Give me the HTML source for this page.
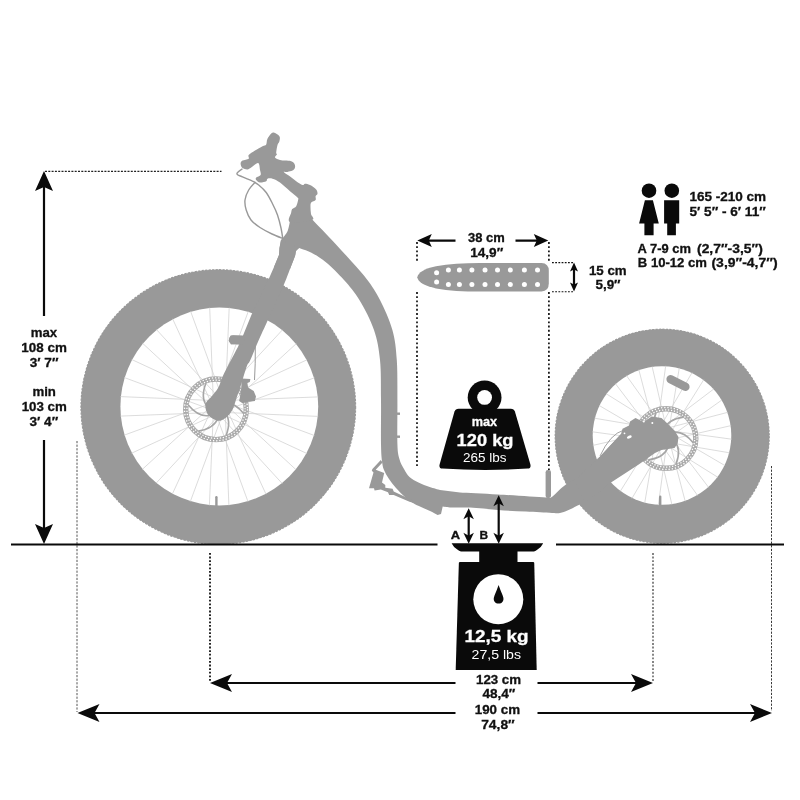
<!DOCTYPE html>
<html lang="en">
<head>
<meta charset="utf-8">
<title>Scooter dimensions</title>
<style>
html,body{margin:0;padding:0;background:#fff;}
body{width:800px;height:800px;overflow:hidden;font-family:"Liberation Sans",sans-serif;}
svg{display:block;will-change:transform;opacity:0.999;}
text{font-family:"Liberation Sans",sans-serif;}
.b{font-weight:bold;fill:#111;stroke:#111;stroke-width:0.3;}
.w{fill:#fff;}
.wb{fill:#fff;font-weight:bold;stroke:#fff;stroke-width:0.3;}
.dot{stroke:#111;stroke-width:1;stroke-dasharray:1.6 1.4;fill:none;}
.ln{stroke:#0a0a0a;stroke-width:2.2;fill:none;}
.blk{fill:#0a0a0a;}
</style>
</head>
<body>
<svg width="800" height="800" viewBox="0 0 800 800">
<rect width="800" height="800" fill="#ffffff"/>
<!-- dotted guide lines -->
<g class="dot">
<path d="M45 171.4H221.5" stroke="#222" stroke-width="1.1" stroke-dasharray="2 1.3"/>
<path d="M77 441V712" stroke="#555" stroke-width="1" stroke-dasharray="2.2 1.4"/>
<path d="M210 553V681" stroke-width="1.8" stroke-dasharray="1.8 1.8"/>
<path d="M653 553V681" stroke="#444" stroke-width="1.3" stroke-dasharray="1.9 1.7"/>
<path d="M771.5 466V711" stroke="#222" stroke-width="0.9" stroke-dasharray="2.2 1.4"/>
<path d="M417 242V261M417 292V468" stroke-width="1.7" stroke-dasharray="1.9 2.3"/>
<path d="M548.9 242V261M548.9 292V470" stroke-width="1.7" stroke-dasharray="1.9 2.3"/>
<path d="M552 262.6H574M552 291.7H574" stroke-width="1.1" stroke-dasharray="1.8 1.4"/>
</g>
<!-- front wheel -->
<g>
<circle cx="218.3" cy="407" r="137.5" fill="#999999"/>
<circle cx="218.3" cy="407" r="137.3" fill="none" stroke="#999999" stroke-width="1.2" stroke-dasharray="2.2 1.3"/>
<circle cx="219.3" cy="406.5" r="98.9" fill="#fff"/>
<path d="M223.1 412.4L318.2 416.4M225.1 402.5L314.4 435.5M220.5 413.4L306.9 453.5M226.1 405.0L296.0 469.7M217.8 413.3L282.2 483.5M226.2 407.8L266.0 494.2M215.3 412.2L248.0 501.7M225.2 410.3L228.9 505.4M213.4 410.3L209.4 505.4M223.3 412.3L190.3 501.6M212.4 407.7L172.3 494.1M220.8 413.3L156.1 483.2M212.5 405.0L142.3 469.4M218.0 413.4L131.6 453.2M213.6 402.5L124.1 435.2M215.5 412.4L120.4 416.1M215.5 400.6L120.4 396.6M213.5 410.5L124.2 377.5M218.1 399.6L131.7 359.5M212.5 408.0L142.6 343.3M220.8 399.7L156.4 329.5M212.4 405.2L172.6 318.8M223.3 400.8L190.6 311.3M213.4 402.7L209.7 307.6M225.2 402.7L229.2 307.6M215.3 400.7L248.3 311.4M226.2 405.3L266.3 318.9M217.8 399.7L282.5 329.8M226.1 408.0L296.3 343.6M220.6 399.6L307.0 359.8M225.0 410.5L314.5 377.8M223.1 400.6L318.2 396.9" stroke="#d0d0d0" stroke-width="0.75" fill="none"/>
<circle cx="216" cy="409.3" r="30.3" fill="none" stroke="#ababab" stroke-width="5.4"/>
<circle cx="216" cy="409.3" r="31.5" fill="none" stroke="#fff" stroke-width="1.3" stroke-dasharray="1.3 1.9"/>
<circle cx="216" cy="409.3" r="29.1" fill="none" stroke="#fff" stroke-width="1.3" stroke-dasharray="1.3 1.7" stroke-dashoffset="1.5"/>
<path d="M224.6 412.0Q231.9 420.5 226.1 435.4M218.0 418.1Q214.2 428.6 198.5 431.1M209.4 415.4Q198.4 417.4 188.3 405.0M207.4 406.6Q200.1 398.1 205.9 383.2M214.0 400.5Q217.8 390.0 233.5 387.5M222.6 403.2Q233.6 401.2 243.7 413.6" stroke="#a6a6a6" stroke-width="1.6" fill="none"/>
</g>
<rect x="215.2" y="496" width="2.4" height="11" rx="1.2" fill="#999999"/>
<!-- rear wheel -->
<g>
<circle cx="662.2" cy="436.2" r="107.2" fill="#999999"/>
<circle cx="662.2" cy="436.2" r="107.0" fill="none" stroke="#999999" stroke-width="1.2" stroke-dasharray="2.2 1.3"/>
<circle cx="662" cy="435.5" r="69.3" fill="#fff"/>
<path d="M664.9 441.9L729.6 452.8M668.3 432.4L725.0 465.6M662.2 442.5L717.9 477.3M669.0 435.1L708.6 487.4M659.5 442.0L697.6 495.5M668.6 437.8L685.2 501.3M657.2 440.6L671.9 504.6M667.2 440.1L658.3 505.2M655.6 438.4L644.7 503.1M665.1 441.8L631.9 498.5M655.0 435.7L620.2 491.4M662.4 442.5L610.1 482.1M655.5 433.0L602.0 471.1M659.7 442.1L596.2 458.7M656.9 430.7L592.9 445.4M657.4 440.7L592.3 431.8M659.1 429.1L594.4 418.2M655.7 438.6L599.0 405.4M661.8 428.5L606.1 393.7M655.0 435.9L615.4 383.6M664.5 429.0L626.4 375.5M655.4 433.2L638.8 369.7M666.8 430.4L652.1 366.4M656.8 430.9L665.7 365.8M668.4 432.6L679.3 367.9M658.9 429.2L692.1 372.5M669.0 435.3L703.8 379.6M661.6 428.5L713.9 388.9M668.5 438.0L722.0 399.9M664.3 428.9L727.8 412.3M667.1 440.3L731.1 425.6M666.6 430.3L731.7 439.2" stroke="#d0d0d0" stroke-width="0.75" fill="none"/>
<circle cx="666" cy="438.5" r="29.8" fill="none" stroke="#ababab" stroke-width="5.4"/>
<circle cx="666" cy="438.5" r="31.0" fill="none" stroke="#fff" stroke-width="1.3" stroke-dasharray="1.3 1.9"/>
<circle cx="666" cy="438.5" r="28.6" fill="none" stroke="#fff" stroke-width="1.3" stroke-dasharray="1.3 1.7" stroke-dashoffset="1.5"/>
<path d="M674.6 441.2Q681.7 449.6 676.0 464.1M668.0 447.3Q664.3 457.6 648.8 459.9M659.4 444.6Q648.6 446.5 638.8 434.3M657.4 435.8Q650.3 427.4 656.0 412.9M664.0 429.7Q667.7 419.4 683.2 417.1M672.6 432.4Q683.4 430.5 693.2 442.7" stroke="#a6a6a6" stroke-width="1.6" fill="none"/>
</g>
<rect x="659" y="495.5" width="2.4" height="11" rx="1.2" fill="#999999"/>
<rect x="-12.5" y="-4.2" width="25" height="8.4" rx="4.2" fill="#999999" transform="translate(678,383) rotate(27)"/>
<!-- scooter silhouette -->
<g fill="#999999" stroke="none">
<path d="M309.4 206.0C309.2 207.0 307.9 210.0 308.2 212.0C308.5 214.0 308.6 215.0 311.0 218.0C313.4 221.0 318.1 225.5 322.4 230.0C326.6 234.5 331.6 239.7 336.5 245.0C341.4 250.3 346.9 256.2 352.0 262.0C357.1 267.8 362.7 273.7 367.4 280.0C372.1 286.3 375.8 291.7 380.0 300.0C384.2 308.3 389.6 320.0 392.4 330.0C395.2 340.0 396.0 348.3 396.8 360.0C397.6 371.7 397.3 386.0 397.4 400.0C397.5 414.0 397.1 434.2 397.4 444.0C397.7 453.8 398.3 454.8 399.4 459.0C400.5 463.2 402.3 466.0 404.0 469.0C405.7 472.0 407.1 474.7 409.5 477.0C411.9 479.3 415.1 480.9 418.5 482.6C421.9 484.3 426.1 485.8 429.7 487.0C433.3 488.2 438.3 489.5 440.0 490.0L460.0 492.4C466.3 492.7 483.7 493.5 498.0 494.4C512.3 495.3 537.2 497.1 546.0 497.6C554.8 498.1 548.0 499.5 551.0 497.6C554.0 495.7 559.8 489.1 564.0 486.0C568.2 482.9 574.0 480.2 576.0 479.0L597.3 459.6L621 434L611 482.4L585 503L585.0 503.0C584.2 503.2 582.8 503.3 580.0 504.5C577.2 505.7 571.3 508.9 568.0 510.3C564.7 511.7 562.7 512.5 560.0 513.0C557.3 513.5 557.7 513.2 552.0 513.0C546.3 512.8 535.0 512.1 526.0 511.6C517.0 511.1 507.3 510.7 498.0 510.0C488.7 509.3 478.0 508.0 470.0 507.6C462.0 507.2 454.6 507.6 450.0 507.4C445.4 507.2 443.9 506.6 442.7 506.5L441 514L437.6 515.0C436.3 514.3 432.8 512.3 430.0 511.0C427.2 509.7 423.8 508.3 421.0 507.0C418.2 505.7 415.7 504.7 413.0 503.0C410.3 501.3 407.8 499.5 405.0 497.0C402.2 494.5 398.7 491.0 396.0 488.0C393.3 485.0 391.0 482.0 389.0 479.0C387.0 476.0 385.2 473.0 384.0 470.0C382.8 467.0 382.5 465.3 382.0 461.0C381.5 456.7 381.2 454.2 381.0 444.0C380.8 433.8 381.2 414.0 381.0 400.0C380.8 386.0 381.2 371.7 380.0 360.0C378.8 348.3 377.4 340.0 374.0 330.0C370.6 320.0 364.4 308.3 359.4 300.0C354.4 291.7 349.6 286.3 344.0 280.0C338.4 273.7 331.1 266.6 325.6 262.0C320.1 257.4 315.4 254.8 311.0 252.5C306.6 250.2 301.0 248.8 299.0 248.0L296 251 L295 256 L290 269 L274 267 L279 255 L279.5 248L281.0 240.0C281.6 239.3 283.2 237.7 284.4 236.0C285.6 234.3 287.0 233.0 288.0 230.0C289.0 227.0 289.8 221.5 290.5 218.0C291.2 214.5 291.8 210.5 292.0 209.0Z"/>
<path d="M299.0 248.0C298.5 248.5 296.7 249.7 296.0 251.0C295.3 252.3 296.0 253.0 295.0 256.0C294.0 259.0 291.9 264.1 290.0 269.0C288.1 273.9 287.3 276.8 283.5 285.5C279.7 294.2 270.8 313.4 267.2 321.4C263.6 329.4 263.4 329.8 261.6 333.7C259.8 337.6 258.5 340.5 256.6 345.0C254.7 349.5 251.6 357.4 250.0 360.7C248.4 364.0 248.4 362.4 247.3 365.0C246.2 367.6 244.8 372.4 243.6 376.2C242.4 379.9 241.4 383.8 240.2 387.5C239.0 391.2 237.6 394.9 236.3 398.7C235.0 402.4 234.2 406.8 232.4 410.0C230.6 413.2 228.1 416.1 225.6 417.9C223.1 419.7 220.5 421.1 217.7 420.7C214.9 420.3 210.7 417.7 208.7 415.6C206.7 413.5 205.9 410.3 205.5 408.0C205.1 405.7 205.4 404.0 206.5 402.0C207.6 400.0 210.0 398.4 212.0 396.0C214.0 393.6 216.5 390.8 218.3 387.5C220.1 384.2 221.1 379.9 222.8 376.2C224.5 372.4 225.9 369.8 228.4 365.0C230.9 360.2 235.9 350.8 237.8 347.2C239.7 343.6 239.3 344.2 239.6 343.6L231 344.6 L228.6 340.5 L230.6 335.6 L243 335.6 L251.6 314.6 L268.5 279.5 L274 267 L279 255 L279.5 248 L281 240Z"/>
<rect x="229" y="335.4" width="16" height="9" rx="4.2" transform="rotate(4 236 340)"/>
<path d="M241.4 378.5 L250.4 379 L249.8 381.9 L247.4 383 L248.1 387.5 L253.7 390.9 L256 396.5 L254.9 401 L247 402.1 L242.5 403.2 L239.1 401 L240.8 393.1 L241.4 385.2 Z"/>
<path d="M255.3 345 Q255.5 365 254.5 380" fill="none" stroke="#999999" stroke-width="1"/>
<path d="M273.1 132.5C275.1 132.1 278.3 134.8 279.4 136.2C280.4 137.6 279.7 139.7 279.4 141.2C279.1 142.7 278.0 143.1 277.5 145.0C277.0 146.9 276.3 150.9 276.2 152.5C276.1 154.1 277.1 153.6 276.9 154.4C276.7 155.2 274.5 156.6 275.0 157.5C275.5 158.4 278.3 159.5 280.0 160.0C281.7 160.5 283.1 160.4 285.0 160.6C286.9 160.8 289.6 160.7 291.2 161.2C292.8 161.7 293.8 162.6 294.4 163.7C295.0 164.8 295.3 166.3 295.0 167.5C294.7 168.7 293.8 169.9 292.5 170.6C291.2 171.3 289.0 171.7 287.5 171.9C286.0 172.1 283.5 171.3 283.7 171.9C283.9 172.5 286.6 174.1 288.7 175.6C290.8 177.1 293.9 179.6 296.2 181.2C298.5 182.8 301.0 184.6 302.5 185.0C304.0 185.4 303.8 183.7 305.0 183.7C306.2 183.7 308.1 184.1 310.0 185.0C311.9 185.9 314.9 188.0 316.2 189.4C317.4 190.8 317.6 192.6 317.5 193.7C317.4 194.8 315.9 195.1 315.6 196.2C315.3 197.2 316.3 198.9 315.6 200.0C314.9 201.1 312.1 201.2 311.2 202.5C310.3 203.8 310.5 205.6 310.5 207.5C310.5 209.4 310.8 211.9 311.0 214.0C311.2 216.1 315.5 218.7 312.0 220.0C308.5 221.3 293.4 223.3 290.0 222.0C286.6 220.7 291.1 214.2 291.5 212.0C291.9 209.8 291.7 210.0 292.5 209.0C293.3 208.0 295.3 207.7 296.2 206.2C297.1 204.7 297.9 201.4 298.1 200.0C298.3 198.6 298.9 199.0 297.5 197.5C296.1 196.0 292.9 193.7 290.0 191.2C287.1 188.7 282.9 184.6 280.0 182.5C277.1 180.4 274.6 179.3 272.5 178.7C270.4 178.1 268.6 178.3 267.5 178.7C266.4 179.1 267.4 180.6 266.2 181.2C264.9 181.8 261.7 182.7 260.0 182.5C258.3 182.3 256.8 180.8 256.2 180.0C255.6 179.2 255.5 178.3 256.2 177.5C256.9 176.7 260.0 176.2 260.6 175.0C261.2 173.8 260.4 172.0 260.0 170.0C259.6 168.0 259.6 163.5 258.1 163.1C256.6 162.7 253.0 166.4 251.2 167.5C249.4 168.6 248.9 169.3 247.5 169.4C246.1 169.5 243.7 169.1 242.5 168.1C241.3 167.1 240.6 164.9 240.6 163.7C240.6 162.4 241.2 161.4 242.5 160.6C243.8 159.8 247.7 159.6 248.7 158.7C249.7 157.8 247.6 156.3 248.7 155.0C249.8 153.7 252.7 152.1 255.0 150.6C257.3 149.1 260.6 147.2 262.5 146.2C264.4 145.2 265.4 145.7 266.2 144.4C267.0 143.2 266.4 140.7 267.5 138.7C268.6 136.7 271.1 132.9 273.1 132.5Z"/>
<path d="M242.5 168.7C241.6 169.5 236.9 172.3 236.9 173.7C236.9 175.1 239.9 175.7 242.5 176.9C245.1 178.2 249.8 179.8 252.5 181.2C255.2 182.5 256.4 183.1 258.7 185.0C261.0 186.9 263.9 189.4 266.2 192.5C268.5 195.6 270.6 199.9 272.5 203.7C274.4 207.4 276.1 210.9 277.5 215.0C278.9 219.1 280.1 223.8 281.0 228.0C281.9 232.2 282.7 238.0 283.0 240.0" fill="none" stroke="#999999" stroke-width="1.4"/>
<path d="M255.6 181.9C254.4 183.2 250.5 187.0 248.7 190.0C246.9 193.0 245.4 196.7 245.0 200.0C244.6 203.3 245.2 206.7 246.2 210.0C247.2 213.3 248.7 217.1 251.0 220.0C253.3 222.9 256.5 225.2 260.0 227.5C263.5 229.8 268.2 232.2 272.0 234.0C275.8 235.8 281.2 237.8 283.0 238.5" fill="none" stroke="#999999" stroke-width="1.4"/>
<path d="M372.4 469.0L380.8 460.0L382.5 462.4L375.7 469.7L384.2 473.0L382.0 482.6L385.3 484.9L385.3 487.7L392.6 488.8L393.7 491.6L412.9 500.6L414.0 502.9L409.5 501.7L393.7 495.0L389.2 495.0L388.0 492.2L380.8 489.4L374.6 490.5L374.0 488.2L369.0 488.2L373.5 472.5L371.8 470.8Z"/>
<rect x="396" y="412.5" width="4" height="2.4"/><rect x="396" y="435.5" width="4" height="2.4"/>
<rect x="545.6" y="470" width="5.4" height="28" rx="2.2"/>
<path d="M585 503 L575 481 L597.3 459.6 L621 434 L622.5 428.7 L629 425.5 L630 421.4 L635.5 418 L643.6 422 L651.7 416.5 L661.5 418 L668 424 L674.5 430.4 L678.5 437 L677.7 443.4 L674.5 448 L661.5 450 L655 453 L638.7 464.5 L611 482.4 Z"/>
<path d="M624 430 Q610 434 600 456" fill="none" stroke="#999999" stroke-width="0.9"/>
<ellipse cx="629.3" cy="437" rx="2.6" ry="1.5" fill="#fff" transform="rotate(-25 629.3 437)"/><circle cx="643.8" cy="421.6" r="1" fill="#fff"/><circle cx="652.3" cy="423" r="1" fill="#fff"/><circle cx="624.5" cy="433.3" r="0.9" fill="#fff"/>
</g>
<!-- ground -->
<path class="ln" d="M11 544.5H437.5M556 544.5H784"/>
<!-- arrows -->
<g>
<path class="ln" d="M44 186V316M44 440V530" stroke-width="2.4"/>
<path class="blk" d="M44.0 171.0L53.0 191.0L44.0 187.0L35.0 191.0ZM44.0 544.0L35.0 524.0L44.0 528.0L53.0 524.0Z"/>
<path class="ln" d="M226 683H455.5M537.5 683H638"/>
<path class="blk" d="M210.0 683.0L232.0 674.0L227.0 683.0L232.0 692.0ZM653.0 683.0L631.0 692.0L636.0 683.0L631.0 674.0Z"/>
<path class="ln" d="M94 713H455.5M537.5 713H756"/>
<path class="blk" d="M77.5 713.0L99.5 704.0L94.5 713.0L99.5 722.0ZM772.0 713.0L750.0 722.0L755.0 713.0L750.0 704.0Z"/>
<path class="ln" d="M428 240.6H455.5M515.5 240.6H538" stroke-width="2"/>
<path class="blk" d="M417.3 240.6L431.8 234.1L428.8 240.6L431.8 247.1ZM548.3 240.6L533.8 247.1L536.8 240.6L533.8 234.1Z"/>
<path class="ln" d="M574 268V286" stroke-width="1.6"/>
<path class="blk" d="M574.0 262.5L578.0 271.5L574.0 269.5L570.0 271.5ZM574.0 291.5L570.0 282.5L574.0 284.5L578.0 282.5Z"/>
<path class="ln" d="M468.7 516V536M498.7 503V536" stroke-width="2"/>
<path class="blk" d="M468.7 508.2L473.9 519.2L468.7 516.2L463.4 519.2ZM468.7 543.8L463.4 532.8L468.7 535.8L473.9 532.8ZM498.7 495.2L503.9 506.2L498.7 503.2L493.4 506.2ZM498.7 543.8L493.4 532.8L498.7 535.8L503.9 532.8Z"/>
</g>
<!-- deck top view -->
<path d="M417.3 277.3 Q418.5 270 436 266.2 Q455 263 480 263 L541.5 263.1 Q548.8 263.4 548.8 271 L548.8 283.6 Q548.8 291.3 541.5 291.5 L480 291.6 Q455 291.6 436 288.4 Q418.5 284.6 417.3 277.3Z" fill="#999999"/>
<g fill="#fff"><circle cx="436.6" cy="272.8" r="2.5"/><circle cx="436.6" cy="281.9" r="2.5"/><circle cx="448.4" cy="270.1" r="2.5"/><circle cx="448.4" cy="284.4" r="2.5"/><circle cx="459.4" cy="270.1" r="2.5"/><circle cx="459.4" cy="284.4" r="2.5"/><circle cx="471.9" cy="270.1" r="2.5"/><circle cx="471.9" cy="284.4" r="2.5"/><circle cx="485" cy="270.1" r="2.5"/><circle cx="485" cy="284.4" r="2.5"/><circle cx="497.5" cy="270.1" r="2.5"/><circle cx="497.5" cy="284.4" r="2.5"/><circle cx="510.3" cy="270.1" r="2.5"/><circle cx="510.3" cy="284.4" r="2.5"/><circle cx="524.4" cy="270.1" r="2.5"/><circle cx="524.4" cy="284.4" r="2.5"/><circle cx="537.5" cy="270.1" r="2.5"/><circle cx="537.5" cy="284.4" r="2.5"/></g>
<!-- max load weight -->
<g class="blk">
<circle cx="484.6" cy="397.4" r="16.9"/>
<path d="M458.6 408.7 H510.8 Q514 408.7 514.9 411.6 L530.4 464.6 Q531.3 468.2 527.6 468.6 Q485 471.2 442.4 468.6 Q438.7 468.2 439.6 464.6 L454.5 411.6 Q455.4 408.7 458.6 408.7Z"/>
</g>
<circle cx="484.6" cy="397.4" r="7.4" fill="#fff"/>
<text x="471.65" y="425.75" font-size="12.5" class="wb" textLength="25.37" lengthAdjust="spacingAndGlyphs">max</text>
<text x="456.62" y="445.9" font-size="17" class="wb" textLength="56.88" lengthAdjust="spacingAndGlyphs">120 kg</text>
<text x="462.9" y="461.6" font-size="13" class="w" textLength="43.49" lengthAdjust="spacingAndGlyphs">265 lbs</text>
<!-- scale -->
<g class="blk">
<path d="M451.6 543.2 H543.2 Q541 547.6 537.5 549.6 Q535.8 551.2 534 551.4 H461 Q459 551.2 457.3 549.6 Q453.8 547.6 451.6 543.2Z"/>
<rect x="479.2" y="550" width="38.3" height="13"/>
<path d="M460 561.9 H533.2 Q534.2 561.9 534.25 563 L536.7 670 H455.7 L458.85 563 Q458.9 561.9 460 561.9Z"/>
</g>
<circle cx="498.3" cy="599.2" r="25" fill="#fff"/>
<path class="blk" d="M498.6 585 Q500.3 590 502.6 595.3 Q504.8 600.6 501.4 602.9 Q498.6 604.3 495.8 602.9 Q492.4 600.6 494.6 595.3 Q496.9 590 498.6 585Z"/>
<text x="464.41" y="642.4" font-size="17" class="wb" textLength="64.05" lengthAdjust="spacingAndGlyphs">12,5 kg</text>
<text x="471.56" y="659.4" font-size="13" class="w" textLength="49.46" lengthAdjust="spacingAndGlyphs">27,5 lbs</text>
<!-- people -->
<g class="blk">
<circle cx="649" cy="190.7" r="7.3"/><path d="M644.9 200.2H652.9L658.8 223.6H653.6V235.2H644.4V223.6H639.1Z"/>
<circle cx="671.8" cy="190.7" r="7.3"/><path d="M664.1 200.2H679.2V223.6H675.9V235.2H667.2V223.6H664.1Z"/>
</g>
<!-- labels -->
<text x="30.77" y="337.3" font-size="12.3" class="b" textLength="26.43" lengthAdjust="spacingAndGlyphs">max</text>
<text x="21.36" y="351.9" font-size="12.3" class="b" textLength="45.45" lengthAdjust="spacingAndGlyphs">108 cm</text>
<text x="29.78" y="366.7" font-size="12.3" class="b" textLength="28.67" lengthAdjust="spacingAndGlyphs">3′ 7″</text>
<text x="32.4" y="395.9" font-size="12.3" class="b" textLength="23.49" lengthAdjust="spacingAndGlyphs">min</text>
<text x="21.71" y="410.6" font-size="12.3" class="b" textLength="45.09" lengthAdjust="spacingAndGlyphs">103 cm</text>
<text x="29.52" y="425.5" font-size="12.3" class="b" textLength="28.62" lengthAdjust="spacingAndGlyphs">3′ 4″</text>
<text x="467.96" y="242.3" font-size="12.3" class="b" textLength="36.7" lengthAdjust="spacingAndGlyphs">38 cm</text>
<text x="470.17" y="256.9" font-size="12.3" class="b" textLength="33.09" lengthAdjust="spacingAndGlyphs">14,9″</text>
<text x="588.99" y="274.6" font-size="12.3" class="b" textLength="37.65" lengthAdjust="spacingAndGlyphs">15 cm</text>
<text x="595.42" y="289.2" font-size="12.3" class="b" textLength="25.17" lengthAdjust="spacingAndGlyphs">5,9″</text>
<text x="476.0" y="684" font-size="12.3" class="b" textLength="45.03" lengthAdjust="spacingAndGlyphs">123 cm</text>
<text x="482.4" y="698.3" font-size="12.3" class="b" textLength="32.97" lengthAdjust="spacingAndGlyphs">48,4″</text>
<text x="474.78" y="714" font-size="12.3" class="b" textLength="45.29" lengthAdjust="spacingAndGlyphs">190 cm</text>
<text x="481.2" y="729" font-size="12.3" class="b" textLength="33.51" lengthAdjust="spacingAndGlyphs">74,8″</text>
<text x="689.41" y="200.9" font-size="12.3" class="b" textLength="76.7" lengthAdjust="spacingAndGlyphs">165 -210 cm</text>
<text x="689.45" y="215.6" font-size="12.3" class="b" textLength="76.36" lengthAdjust="spacingAndGlyphs">5′ 5″ - 6′ 11″</text>
<text x="637.62" y="252.8" font-size="12.3" class="b" textLength="53.35" lengthAdjust="spacingAndGlyphs">A 7-9 cm</text>
<text x="697.04" y="252.8" font-size="12.3" class="b" textLength="65.74" lengthAdjust="spacingAndGlyphs">(2,7″-3,5″)</text>
<text x="637.79" y="267.2" font-size="12.3" class="b" textLength="69.16" lengthAdjust="spacingAndGlyphs">B 10-12 cm</text>
<text x="711.47" y="267.2" font-size="12.3" class="b" textLength="66.13" lengthAdjust="spacingAndGlyphs">(3,9″-4,7″)</text>
<text x="450.66" y="538.8" font-size="11" class="b" textLength="9.36" lengthAdjust="spacingAndGlyphs">A</text>
<text x="479.4" y="538.8" font-size="11" class="b" textLength="8.63" lengthAdjust="spacingAndGlyphs">B</text>
</svg>
</body>
</html>
